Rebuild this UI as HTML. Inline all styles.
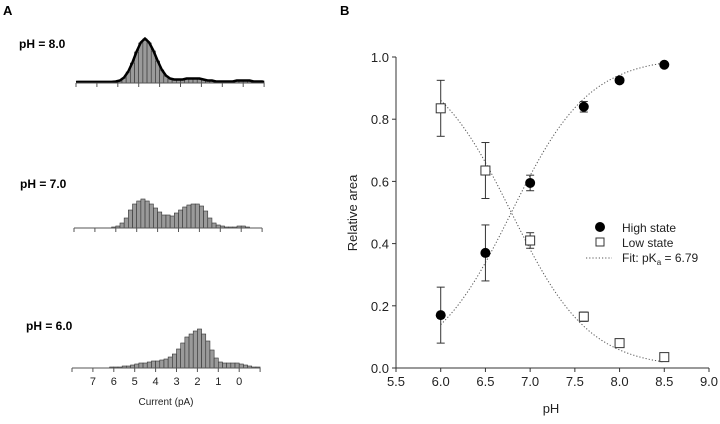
<!DOCTYPE html>
<html><head><meta charset="utf-8"><style>
body{margin:0;background:#fff;width:720px;height:419px;overflow:hidden}
svg{font-family:"Liberation Sans",Arial,sans-serif}
</style></head><body>
<svg width="720" height="419">
<g id="panelA"></g>
<g id="panelB"></g>
</svg>
<script>
// Panel A histogram data (bins of 0.2 pA, centers 7.9 down to -0.9)
const binCenters = Array.from({length:45},(_,i)=>+(7.9-0.2*i).toFixed(1));
const countsPH8 = [0,0,0,0,0,0,0,0,0,1,2,5,11,20,31,40,44,40,32,22,13,7,4,3,3,3,4,4,4,4,3,2,2,1,1,1,1,1,2,2,2,2,1,1,1];
const countsPH7 = [0,0,0,0,0,0,0,0,0,1,2,5,10,18,24,27,29,27,24,20,16,13,13,12,15,18,21,23,24,24,22,17,10,5,3,2,1,1,1,2,2,1,0,0,0];
const countsPH6 = [0,0,0,0,0,0,0,0,0,1,1,1,2,2,3,4,5,5,6,7,7,8,9,11,14,19,25,31,34,37,39,34,27,18,10,6,5,5,5,5,4,3,2,1,1];
const currentTicks = [7,6,5,4,3,2,1,0];
// Panel B data
const phValues = [6.0,6.5,7.0,7.6,8.0,8.5];
const highState = [0.17,0.37,0.595,0.84,0.925,0.975];
const highErr = [0.09,0.09,0.025,0.017,0,0];
const lowState = [0.835,0.635,0.41,0.165,0.08,0.035];
const lowErr = [0.09,0.09,0.025,0.015,0,0];
const pKa = 6.79;
const xTicks = [5.5,6.0,6.5,7.0,7.5,8.0,8.5,9.0];
const yTicks = [0.0,0.2,0.4,0.6,0.8,1.0];

const NS="http://www.w3.org/2000/svg";
function mk(parent,tag,attrs,text){const e=document.createElementNS(NS,tag);for(const k in attrs)e.setAttribute(k,attrs[k]);if(text!==undefined)e.textContent=text;parent.appendChild(e);return e;}
const A=document.getElementById('panelA'), B=document.getElementById('panelB');

let t=mk(A,'text',{x:3,y:15,'font-size':13,'font-weight':'bold'},'A');



const hists=[
 {name:'ph8',label:'pH = 8.0',lx:19,ly:48,x0:76,base:83,data:countsPH8,fit:true},
 {name:'ph7',label:'pH = 7.0',lx:20,ly:188,x0:74,base:228,data:countsPH7,fit:false},
 {name:'ph6',label:'pH = 6.0',lx:26,ly:330,x0:72,base:368,data:countsPH6,fit:false}
];
const pxPerPA=20.9;
hists.forEach(h=>{
  const g=mk(A,'g',{});
  
  
  const xs=c=>h.x0+(8-c)*pxPerPA;
  const lab=mk(g,'text',{x:h.lx,y:h.ly,'font-size':12,'font-weight':'bold'},h.label);
  
  
  const bw=0.2*pxPerPA;
  h.data.forEach((v,i)=>{
    if(v<=0)return;
    const x=xs(binCenters[i]+0.1);
    const r=mk(g,'rect',{x:x,y:h.base-v,width:bw,height:v,fill:'#9a9a9a',stroke:'#333','stroke-width':0.6});
    
    
  });
  if(h.fit){
    const pts=h.data.map((v,i)=>xs(binCenters[i])+','+(h.base-Math.max(v,0.6)-0.5)).join(' ');
    const pl=mk(g,'polyline',{points:xs(8)+','+(h.base-1)+' '+pts+' '+xs(-1)+','+(h.base-1),fill:'none',stroke:'#000','stroke-width':2.5,'stroke-linejoin':'round'});
    
    
  }
  const ax=mk(g,'line',{x1:xs(8),x2:xs(-1),y1:h.base,y2:h.base,stroke:'#555','stroke-width':1});
  
  
  for(let c=8;c>=-1;c--){
    const tk=mk(g,'line',{x1:xs(c),x2:xs(c),y1:h.base,y2:h.base+4,stroke:'#555','stroke-width':1});
    
    
  }
  if(h.name==='ph6'){
    currentTicks.forEach(c=>{
      const tl=mk(g,'text',{x:xs(c),y:h.base+17,'font-size':11,'text-anchor':'middle',fill:'#222'},String(c));
      
      
    });
    const xt=mk(g,'text',{x:166,y:405,'font-size':10,'text-anchor':'middle',fill:'#222'},'Current (pA)');
    
    
  }
});

// Panel B
t=mk(B,'text',{x:340,y:15,'font-size':13,'font-weight':'bold'},'B');


const X=v=>396+(v-5.5)*(709-396)/3.5;
const Y=v=>368-v*(368-57);
let l=mk(B,'line',{x1:396,x2:396,y1:57,y2:368,stroke:'#333','stroke-width':1});


l=mk(B,'line',{x1:396,x2:709,y1:368,y2:368,stroke:'#333','stroke-width':1});


yTicks.forEach(v=>{
  const tk=mk(B,'line',{x1:392,x2:396,y1:Y(v),y2:Y(v),stroke:'#333'});
  
  
  const tl=mk(B,'text',{x:389,y:Y(v)+5,'font-size':13,'text-anchor':'end',fill:'#222'},v.toFixed(1));
  
  
});
xTicks.forEach(v=>{
  const tk=mk(B,'line',{x1:X(v),x2:X(v),y1:368,y2:372,stroke:'#333'});
  
  
  const tl=mk(B,'text',{x:X(v),y:386,'font-size':13,'text-anchor':'middle',fill:'#222'},v.toFixed(1));
  
  
});
t=mk(B,'text',{x:551,y:413,'font-size':13,'text-anchor':'middle',fill:'#222'},'pH');


t=mk(B,'text',{x:0,y:0,'font-size':13,'text-anchor':'middle',fill:'#222',transform:'translate(357,213) rotate(-90)'},'Relative area');



// fit curves
function fitPts(sign){const p=[];for(let ph=6.0;ph<=8.5001;ph+=0.05){const f=1/(1+Math.pow(10,pKa-ph));p.push(X(ph)+','+Y(sign?f:1-f));}return p.join(' ');}
l=mk(B,'polyline',{points:fitPts(true),fill:'none',stroke:'#555','stroke-width':1,'stroke-dasharray':'1.2,2'});


l=mk(B,'polyline',{points:fitPts(false),fill:'none',stroke:'#555','stroke-width':1,'stroke-dasharray':'1.2,2'});



function errbar(x,v,e,name){
  if(e<=0)return;
  const g=mk(B,'g',{stroke:'#333','stroke-width':1});
  
  
  mk(g,'line',{x1:x,x2:x,y1:Y(v-e),y2:Y(v+e)});
  mk(g,'line',{x1:x-4,x2:x+4,y1:Y(v-e),y2:Y(v-e)});
  mk(g,'line',{x1:x-4,x2:x+4,y1:Y(v+e),y2:Y(v+e)});
}
phValues.forEach((ph,i)=>{
  errbar(X(ph),highState[i],highErr[i],'error-bar-high');
  errbar(X(ph),lowState[i],lowErr[i],'error-bar-low');
});
phValues.forEach((ph,i)=>{
  const c=mk(B,'circle',{cx:X(ph),cy:Y(highState[i]),r:5,fill:'#000'});
  
  
  const r=mk(B,'rect',{x:X(ph)-4.5,y:Y(lowState[i])-4.5,width:9,height:9,fill:'#fff',stroke:'#333','stroke-width':1});
  
  
});
// legend
const lg=mk(B,'g',{});


let e=mk(lg,'circle',{cx:600,cy:227,r:5,fill:'#000'});


e=mk(lg,'text',{x:622,y:232,'font-size':12,fill:'#222'},'High state');


e=mk(lg,'rect',{x:596,y:238,width:8,height:8,fill:'#fff',stroke:'#333'});


e=mk(lg,'text',{x:622,y:247,'font-size':12,fill:'#222'},'Low state');


e=mk(lg,'line',{x1:586,x2:612,y1:258,y2:258,stroke:'#555','stroke-dasharray':'1.2,2'});


e=mk(lg,'text',{x:622,y:262,'font-size':12,fill:'#222'});


e.innerHTML='Fit: pK<tspan font-size="8" dy="3">a</tspan><tspan dy="-3"> = 6.79</tspan>';
</script>
</body></html>
